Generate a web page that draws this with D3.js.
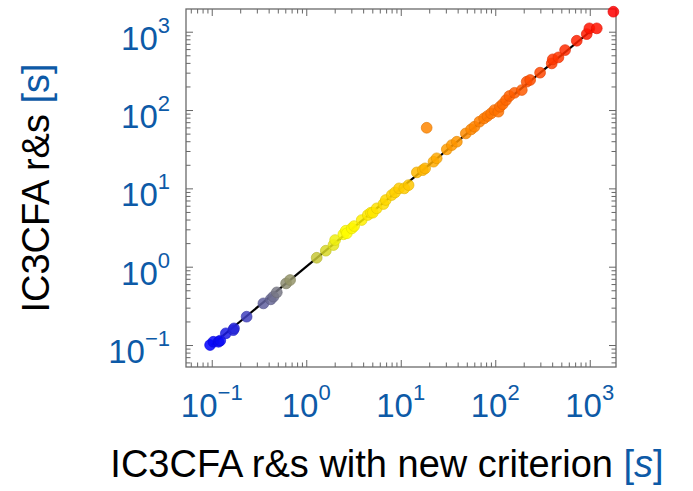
<!DOCTYPE html>
<html>
<head>
<meta charset="utf-8">
<script src="https://cdn.jsdelivr.net/npm/d3@7"></script>
<style>
  body { margin: 0; background: #fff; }
  text { font-family: "Liberation Sans", Arial, Helvetica, sans-serif; }
</style>
</head>
<body>
<div id="chart"></div>
<script>
// runtimes in seconds
const xTimes = [0.096, 0.104, 0.118, 0.123, 0.141, 0.169, 0.172, 0.234, 0.352, 0.421, 0.449, 0.488,
  0.612, 0.675, 1.29, 1.61, 1.94, 2.02, 2.47, 2.62, 2.69, 3.03, 3.21, 3.86, 4.48, 4.82, 5.06, 5.57,
  6.56, 6.94, 8.03, 8.71, 9.60, 10.9, 12.1, 14.8, 17.1, 18.1, 18.8, 22.2, 24.0, 30.7, 34.7, 39.2,
  48.8, 55.5, 60.2, 68.0, 76.2, 82.6, 90.3, 98.0, 108, 112, 120, 130, 141, 160, 191, 215, 234, 298,
  396, 406, 466, 548, 728, 929, 991, 1186, 1778];
const yTimes = [0.100, 0.110, 0.110, 0.114, 0.141, 0.155, 0.163, 0.230, 0.340, 0.383, 0.414, 0.470,
  0.612, 0.676, 1.30, 1.60, 1.89, 2.19, 2.59, 2.88, 2.67, 3.08, 3.30, 3.94, 4.57, 4.89, 4.89, 5.56,
  6.31, 7.10, 8.22, 8.89, 10.0, 10.0, 11.0, 16.0, 17.1, 18.0, 59.4, 21.9, 24.2, 31.5, 35.7, 39.4,
  50.3, 56.6, 61.2, 71.0, 78.3, 83.8, 90.6, 100, 95.3, 110, 119, 134, 151, 166, 180, 230, 242, 300,
  394, 444, 470, 583, 767, 933, 1104, 1104, 1800];

const xTicks = [0.1, 1, 10, 100, 1000];
const yTicks = [0.1, 1, 10, 100, 1000];
const tickExps = ["\u22121", "0", "1", "2", "3"];
const diagonal = [0.1, 1100];
const colorStops = ["#0000ff", "#ffff00", "#ff8000", "#ff0000"];

const width = 693, height = 491;
const margin = { top: 9, right: 77, bottom: 124, left: 186 };
const w = width - margin.left - margin.right;
const h = height - margin.top - margin.bottom;
const blue = "#0d5aa7";

const svg = d3.select("#chart").append("svg")
  .attr("width", width)
  .attr("height", height);

const chart = svg.append("g")
  .attr("transform", `translate(${margin.left},${margin.top})`);

const x = d3.scaleLog().domain([0.0534, 1895]).range([0, w]);
const y = d3.scaleLog().domain([0.0524, 1950]).range([h, 0]);

const color = d3.scaleLinear()
  .domain(d3.range(4).map(i => -1 + i * (Math.log10(1800) + 1) / 3))
  .range(colorStops)
  .interpolate(d3.interpolateRgb)
  .clamp(true);

// minor ticks 2..9 per decade
function minors(scale) {
  const [a, b] = scale.domain();
  const out = [];
  for (let e = -2; e <= 3; e++) {
    for (let m = 2; m <= 9; m++) {
      const v = m * Math.pow(10, e);
      if (v > a && v < b) out.push(v);
    }
  }
  return out;
}

function drawTicks(axisGen, transform, values, size) {
  chart.append("g")
    .attr("transform", transform)
    .call(axisGen.tickValues(values).tickSize(size).tickFormat(""))
    .call(g => g.select(".domain").remove())
    .call(g => g.selectAll("line").attr("stroke", "#666").attr("stroke-width", 1));
}

drawTicks(d3.axisBottom(x), `translate(0,${h})`, xTicks, -7);
drawTicks(d3.axisBottom(x), `translate(0,${h})`, minors(x), -4.5);
drawTicks(d3.axisTop(x), "translate(0,0)", xTicks, -7);
drawTicks(d3.axisTop(x), "translate(0,0)", minors(x), -4.5);
drawTicks(d3.axisLeft(y), "translate(0,0)", yTicks, -7);
drawTicks(d3.axisLeft(y), "translate(0,0)", minors(y), -4.5);
drawTicks(d3.axisRight(y), `translate(${w},0)`, yTicks, -7);
drawTicks(d3.axisRight(y), `translate(${w},0)`, minors(y), -4.5);

chart.append("rect")
  .attr("width", w)
  .attr("height", h)
  .attr("fill", "none")
  .attr("stroke", "#6a6a6a")
  .attr("stroke-width", 1.3);

// y = x reference line
chart.append("line")
  .attr("x1", x(diagonal[0])).attr("y1", y(diagonal[0]))
  .attr("x2", x(diagonal[1])).attr("y2", y(diagonal[1]))
  .attr("stroke", "#000")
  .attr("stroke-width", 2.2);

const pts = xTimes.map((v, i) => ({ x: v, y: yTimes[i] }));

chart.selectAll(".dot")
  .data(pts)
  .enter()
  .append("circle")
  .classed("dot", true)
  .attr("cx", d => x(d.x))
  .attr("cy", d => y(d.y))
  .attr("r", 5.4)
  .attr("fill", d => color(Math.log10(d.y)))
  .attr("fill-opacity", 0.85)
  .attr("stroke", d => d3.color(color(Math.log10(d.y))).darker(0.35))
  .attr("stroke-width", 0.8)
  .attr("stroke-opacity", 0.8);

// tick labels, 10 with superscript exponent
function powLabel(sel, exp) {
  sel.append("tspan").text("10");
  sel.append("tspan")
    .attr("dy", -17)
    .style("font-size", "22px")
    .text(exp);
}

xTicks.forEach((t, i) => {
  chart.append("text")
    .attr("x", x(t))
    .attr("y", h + 50)
    .attr("text-anchor", "middle")
    .attr("fill", blue)
    .style("font-size", "33px")
    .call(powLabel, tickExps[i]);
});

yTicks.forEach((t, i) => {
  chart.append("text")
    .attr("x", -16)
    .attr("y", y(t) + 18)
    .attr("text-anchor", "end")
    .attr("fill", blue)
    .style("font-size", "33px")
    .call(powLabel, tickExps[i]);
});

// axis titles
const xt = svg.append("text")
  .attr("x", 387)
  .attr("y", 477)
  .attr("text-anchor", "middle")
  .style("font-size", "38px")
  .attr("fill", "#000");
xt.append("tspan").text("IC3CFA r&s with new criterion ");
xt.append("tspan").attr("fill", blue).text("[");
xt.append("tspan").attr("fill", blue).style("font-style", "italic").text("s");
xt.append("tspan").attr("fill", blue).text("]");

const yt = svg.append("text")
  .attr("transform", "translate(49,188) rotate(-90)")
  .attr("text-anchor", "middle")
  .style("font-size", "38px")
  .attr("fill", "#000");
yt.append("tspan").text("IC3CFA r&s ");
yt.append("tspan").attr("fill", blue).text("[s]");
</script>
</body>
</html>
